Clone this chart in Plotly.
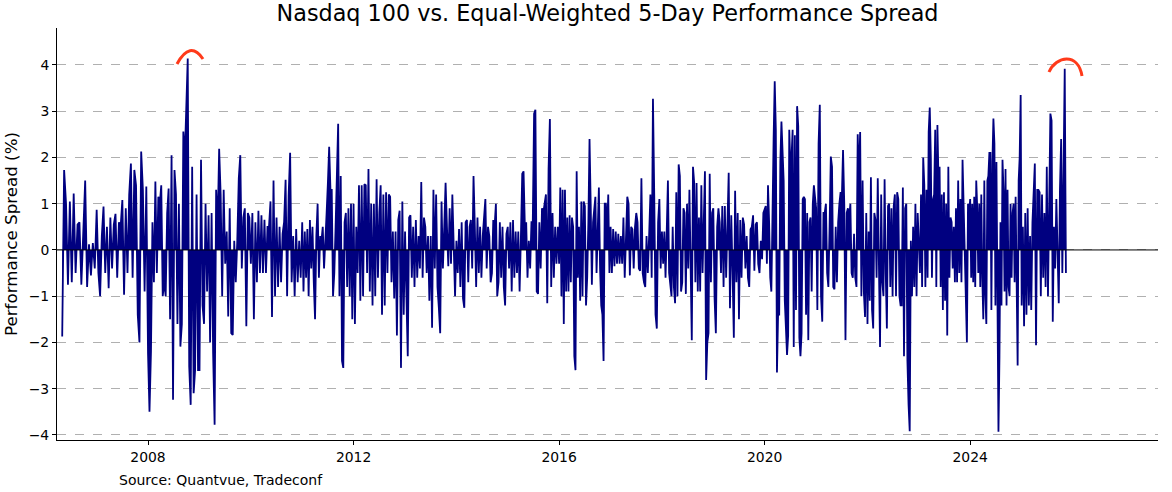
import pandas as pd
import plotly.graph_objects as go

# ---- data (5-day spread, %), grouped by calendar year ----
spread_2006 = [-1.87, 1.73, 1.0, -0.75, 1.05, -0.7, 1.22, -0.5, 0.55, 0.6, -0.75, 0.45, 1.5, -0.8, 0.12, -0.55, 0.15, -0.4]
spread_2007 = [0.87, -0.5, -1.0, 0.3, 0.94, -0.5, 0.5, -0.83, 0.7, -0.4, 0.55, 0.78, -0.6, 0.6, 0.5, 1.08, -0.97, 0.9, -0.5, 1.2,
               1.87, -0.6, 1.73, 1.4, -1.4, -2.0, 2.13, 1.3, -0.9, 1.37]
spread_2008 = [-2.23, -3.5, -2.2, 0.6, -0.7, 1.48, -0.5, 1.15, 1.0, 1.4, -1.0, -0.7, -1.0, 0.8, 1.33, -1.5, 2.05, -3.24, 1.73, 1.2,
               -1.6, 1.0, -2.09, -1.6, 2.56, 2.0, 3.03, 4.14, -2.52, -3.35, 1.8, -3.1, -2.6, 1.2, -2.6]
spread_2009 = [-2.6, 1.95, -1.2, -1.6, 1.0, -0.9, 0.75, -2.0, 0.8, -2.23, -3.78, 1.3, 0.5, 2.19, 1.2, -1.0, 1.3, -0.3,
               0.4, -1.44, 0.9, -1.8, -1.84, 0.2, -0.7, 0.2, 1.55, 2.05, -0.4, 0.7, 0.9, -1.65, 0.8, 0.7]
spread_2010 = [-0.3, 0.8, -1.5, 0.6, -0.7, 0.85, -0.5, 0.75, -0.5, 0.65, -0.5, 0.5, 0.5, 1.05, -1.45, 1.5, -1.0, 0.7, -0.8, 0.5,
               -0.7, 0.35, 0.6, 1.52, -1.0, 1.18, 2.1, -0.7, 0.3, -1.0, 0.45, -0.7, 0.2, -0.6]
spread_2011 = [0.6, -0.9, 0.4, -0.6, 0.45, -1.0, 0.65, -0.4, 0.5, -0.7, -1.5, 0.3, 1.0, -0.6, 0.3, 0.2, 0.5, -0.4, 0.4, 0.8,
               1.45, 2.23, 1.3, 1.3, -1.0, -0.5, 0.5, 1.5, 2.73, -1.0, 1.6, -2.4, -2.55, 0.6, 0.8, -0.8, 0.9, -1.0, 1.0, -1.5]
spread_2012 = [1.0, -1.6, 0.5, -0.5, 1.4, -1.1, 1.4, -1.0, 1.42, 1.4, -0.5, 1.75, -0.9, 1.0, -1.2, 1.0, -1.0, 1.53, -0.6, 0.8,
               1.4, -1.4, 1.2, -1.2, 1.25, -0.5, 1.2, 1.15, -0.7, 0.4, -1.05, 0.4, -1.85, 0.65, 0.85, -2.55, 1.05, -1.4]
spread_2013 = [0.4, -1.0, -2.3, 0.7, 0.75, -0.6, 0.5, -0.8, 0.65, -0.6, 0.3, -0.4, 1.47, -0.6, 0.7, 0.5, -0.5, 0.3, -1.1, 0.3,
               -1.68, 1.3, -0.4, 1.2, -0.8, -1.25, -1.8, 1.05, -0.4, 0.5, 1.45, 0.5, -0.35, 0.9, -0.3, 1.2, -0.2, -1.0]
spread_2014 = [0.2, -0.5, 0.45, -0.8, 0.6, -1.05, -1.25, 0.6, 0.65, -0.7, 0.5, 0.65, -0.4, 1.6, 0.5, -0.8, 0.7, -0.5, 0.5, -0.6,
               0.3, 0.8, 1.1, -0.4, 0.5, 0.3, -0.7, -0.5, 0.65, 0.5, 1.0, -1.0, -0.7, 0.6, -0.6, 0.5, -0.8, -1.2, 0.35]
spread_2015 = [0.5, -0.4, 0.6, -0.9, 0.65, -0.6, 0.4, -0.5, 0.4, -0.9, 0.3, 1.65, 1.7, 0.5, 0.6, -0.6, 0.2, -0.4, 0.6, 0.6,
               2.95, 3.03, -0.9, -0.95, 0.6, -0.4, 0.9, 0.8, 1.0, 1.2, -1.15, 1.75, 2.83, -0.8, 0.8, -0.6, 0.5, -0.3, 0.5]
spread_2016 = [-0.3, 1.35, -1.0, 1.3, -1.6, 1.3, -0.9, 0.7, -0.9, 0.75, -0.7, 0.7, 0.5, -2.3, -2.6, 1.7, -0.6, 0.5, -1.1, 1.05,
               -1.0, 1.05, 0.95, -1.2, -0.6, 0.6, 2.4, 1.0, -0.75, 0.6, 0.85, 1.15, -0.5, 0.7, 1.35, -0.4, -1.2, -1.4, -2.4, 1.0,
               1.0, 0.4, 1.2, -0.5]
spread_2017 = [0.5, -0.5, 0.45, -0.35, 0.4, -0.3, 0.35, -0.3, 0.3, -0.3, 0.7, -0.6, 0.5, 1.15, 1.0, -0.55, 0.5, 0.45, -0.4, 0.5,
               0.8, 0.6, -0.4, -0.45, 1.55, -0.5, -0.7, -0.8, 0.3, -0.5, 0.3, 1.2, -0.6, 3.27, 1.2, -1.4, -1.7, 0.6, 1.1, -0.4]
spread_2018 = [0.4, -0.3, 0.4, -0.6, 0.4, 1.5, -0.5, -0.8, -1.0, 0.5, -0.8, -1.15, 1.25, -1.0, 1.85, 1.6, -0.9, -0.7, 0.9, 0.8,
               -0.95, 1.0, -0.4, 1.3, -0.5, -1.95, 1.8, 1.45, -0.7, 1.45, -0.9, 0.7, -0.9, 1.4, -0.5, 0.9, 1.7, -2.81, -2.0, -1.8,
               1.65, -0.7, 0.8]
spread_2019 = [0.9, -1.05, -1.8, 0.5, 0.9, 0.6, -0.5, 0.95, -0.8, 0.95, -0.6, 0.7, 1.67, -1.26, 0.75, -0.5, -1.9, 1.28, -0.7, 0.8,
               -1.5, 0.65, -0.6, 0.7, 0.55, -0.4, 0.3, -0.6, -0.8, 0.45, 0.5, 0.75, -0.45, 0.55, 0.6, -0.3, -0.5, 0.2, -0.2, 0.8]
spread_2020 = [0.9, 0.95, -0.3, 1.4, 0.6, -0.6, -0.9, 1.4, 2.4, 3.65, 2.6, -2.65, -1.4, -1.4, 1.9, 2.78, 2.0, 1.5, -1.1, -1.6,
               -2.27, -1.85, 2.6, 1.8, 2.0, 2.6, -2.1, 2.48, -1.3, 3.11, 2.68, -1.9, -2.3, -1.8, 1.1, 1.15, 1.1, -1.4, 0.8, -1.95,
               0.6, 0.7, -0.9, 1.0, 1.4, 1.15]
spread_2021 = [0.9, -1.3, 2.3, 3.14, -1.0, -1.55, 0.8, 0.8, 1.0, -0.5, -0.8, 0.5, 2.02, 1.8, -0.8, -0.85, 0.5, -0.7, 0.6, 1.0,
               1.25, 1.1, 2.16, 1.0, -1.95, 0.8, 0.9, 0.7, 1.0, -0.5, -0.6, 0.35, -0.6, -0.8, 2.5, 1.5, 2.55, -1.0, 1.5, -0.9,
               -1.45, 0.8]
spread_2022 = [-1.6, 0.4, -1.1, 1.57, -1.3, -1.7, 0.8, 0.65, -0.6, 1.55, -1.0, -2.1, 1.2, -0.7, -1.0, 1.53, -0.5, -1.7, 0.95, 1.0,
               -0.8, 0.9, -1.0, 0.95, 1.2, -1.0, 1.25, 1.1, -1.0, -1.2, -1.2, 1.35, -2.3, 0.9, 1.0, -2.4, -3.35, -3.92, 0.2, -1.0,
               0.5, -0.8, 1.0, -1.0, 0.8]
spread_2023 = [0.3, -0.5, 1.2, -0.8, 2.0, 1.4, -0.8, 1.3, -0.6, 2.55, 3.08, 2.0, -0.6, 1.1, 1.2, 2.6, -0.8, 2.7, 1.5, 1.8,
               -0.8, 1.2, -1.3, 1.25, -1.1, 1.0, -1.85, 1.8, -0.6, 0.7, 0.6, -0.4, 0.5, -0.7, 0.9, -0.7, 1.5, -0.5, 1.1, -0.7,
               1.95, 1.0, -0.5, -1.2, -2.0, 1.0, 0.8]
spread_2024 = [1.1, -0.6, 1.0, -0.7, 1.15, -0.8, 1.5, 0.9, -0.5, 1.0, -0.8, 1.2, -0.6, -1.5, 1.5, -1.0, -1.6, 1.5, 1.6, 2.1,
               2.1, -1.3, 1.9, 2.84, 2.3, -1.2, 1.9, -2.5, -3.93, -2.3, 0.6, -1.2, 1.95, 1.3, -0.9, 1.75, -1.2, 1.3, -0.8, -1.0,
               1.0, -0.6, 0.8, 1.0, -0.7, 1.15, -1.5, -2.5, 1.5, 2.0, 3.35]
spread_2025 = [-1.2, 0.5, -1.65, 0.8, -1.4, 0.9, -1.2, 0.3, -1.3, 0.6, 1.44, 1.87, -2.06, 1.3, 1.3, 1.25, -1.0, 1.2, -0.6, 0.8,
               -0.8, 1.8, -1.0, 1.2, 2.95, 2.8, -1.55, 0.5, -0.4, 1.1, -0.5, -1.15, 1.3, 2.4, -0.5, 1.2, 3.92, -0.5]

# each year's readings span these date ranges
year_segments = [
    ("2006-05-01", "2007-01-01", spread_2006),
    ("2007-01-01", "2008-01-01", spread_2007),
    ("2008-01-01", "2009-01-01", spread_2008),
    ("2009-01-01", "2010-01-01", spread_2009),
    ("2010-01-01", "2011-01-01", spread_2010),
    ("2011-01-01", "2012-01-01", spread_2011),
    ("2012-01-01", "2013-01-01", spread_2012),
    ("2013-01-01", "2014-01-01", spread_2013),
    ("2014-01-01", "2015-01-01", spread_2014),
    ("2015-01-01", "2016-01-01", spread_2015),
    ("2016-01-01", "2017-01-01", spread_2016),
    ("2017-01-01", "2018-01-01", spread_2017),
    ("2018-01-01", "2019-01-01", spread_2018),
    ("2019-01-01", "2020-01-01", spread_2019),
    ("2020-01-01", "2021-01-01", spread_2020),
    ("2021-01-01", "2022-01-01", spread_2021),
    ("2022-01-01", "2023-01-01", spread_2022),
    ("2023-01-01", "2024-01-01", spread_2023),
    ("2024-01-01", "2025-01-01", spread_2024),
    ("2025-01-01", "2025-11-20", spread_2025),
]

tick_years = ["2008", "2012", "2016", "2020", "2024"]
y_ticks = [-4, -3, -2, -1, 0, 1, 2, 3, 4]

dates, values = [], []
for start, end, vals in year_segments:
    d = pd.date_range(start, end, periods=len(vals) + 1)[:-1]
    dates.extend(d)
    values.extend(vals)

NAVY = "#000080"
FONT = "DejaVu Sans"

fig = go.Figure()
fig.add_trace(go.Scatter(
    x=dates, y=values, mode="lines",
    line=dict(color=NAVY, width=1.8),
    fill="tozeroy", fillcolor=NAVY,
    showlegend=False, hoverinfo="x+y",
))

# plot-area pixel geometry helpers (for the hand-drawn highlight arcs)
L, R, T, B = 57, 1158, 28, 440
def px(x): return (x - L) / (R - L)
def py(y): return (B - y) / (B - T)

arc1 = f"M {px(177)} {py(64)} Q {px(190)} {py(40)} {px(203)} {py(59)}"
arc2 = f"M {px(1049)} {py(72)} C {px(1056)} {py(56)} {px(1078)} {py(52)} {px(1082)} {py(76)}"

fig.update_layout(
    width=1172, height=492,
    margin=dict(l=L, r=1172 - R, t=T, b=492 - B, autoexpand=False),
    paper_bgcolor="white", plot_bgcolor="white",
    font=dict(family=FONT, color="black", size=14),
    title=dict(text="Nasdaq 100 vs. Equal-Weighted 5-Day Performance Spread",
               x=0.5, xanchor="center", y=1 - 13 / 492, yanchor="middle",
               xref="paper", font=dict(size=22.3, family=FONT)),
    xaxis=dict(
        type="date",
        range=["2006-03-25", "2027-08-28"],
        tickvals=[f"{y}-01-01" for y in tick_years], ticktext=tick_years,
        showgrid=False, zeroline=False,
        showline=True, linecolor="black", linewidth=1,
        ticks="outside", ticklen=4, tickcolor="black",
        tickfont=dict(size=13.9, family=FONT),
    ),
    yaxis=dict(
        range=[-4.11, 4.80],
        tickvals=y_ticks,
        ticktext=[("\u2212" + str(abs(v))) if v < 0 else str(v) for v in y_ticks],
        showgrid=True, gridcolor="#b0b0b0", gridwidth=1, griddash="dash",
        zeroline=False,
        showline=True, linecolor="black", linewidth=1,
        ticks="outside", ticklen=4, tickcolor="black",
        tickfont=dict(size=13.9, family=FONT),
    ),
    shapes=[
        dict(type="line", xref="paper", yref="y", x0=0, x1=1, y0=0, y1=0,
             line=dict(color="black", width=1), layer="above"),
        dict(type="path", xref="paper", yref="paper", path=arc1,
             line=dict(color="#ff3a1a", width=3), layer="above"),
        dict(type="path", xref="paper", yref="paper", path=arc2,
             line=dict(color="#ff3a1a", width=3), layer="above"),
    ],
    annotations=[
        dict(text="Performance Spread (%)", textangle=-90, xref="paper", yref="paper",
             x=px(11), y=py(234), xanchor="center", yanchor="middle", showarrow=False,
             font=dict(size=16.7, family=FONT)),
        dict(text="Source: Quantvue, Tradeconf", xref="paper", yref="paper",
             x=px(117), y=py(480), xanchor="left", yanchor="middle", showarrow=False,
             font=dict(size=14, family=FONT)),
    ],
)

fig.write_html("out.html", config={"displayModeBar": False},
               post_script="document.body.style.margin='0';document.body.style.overflow='hidden';")
